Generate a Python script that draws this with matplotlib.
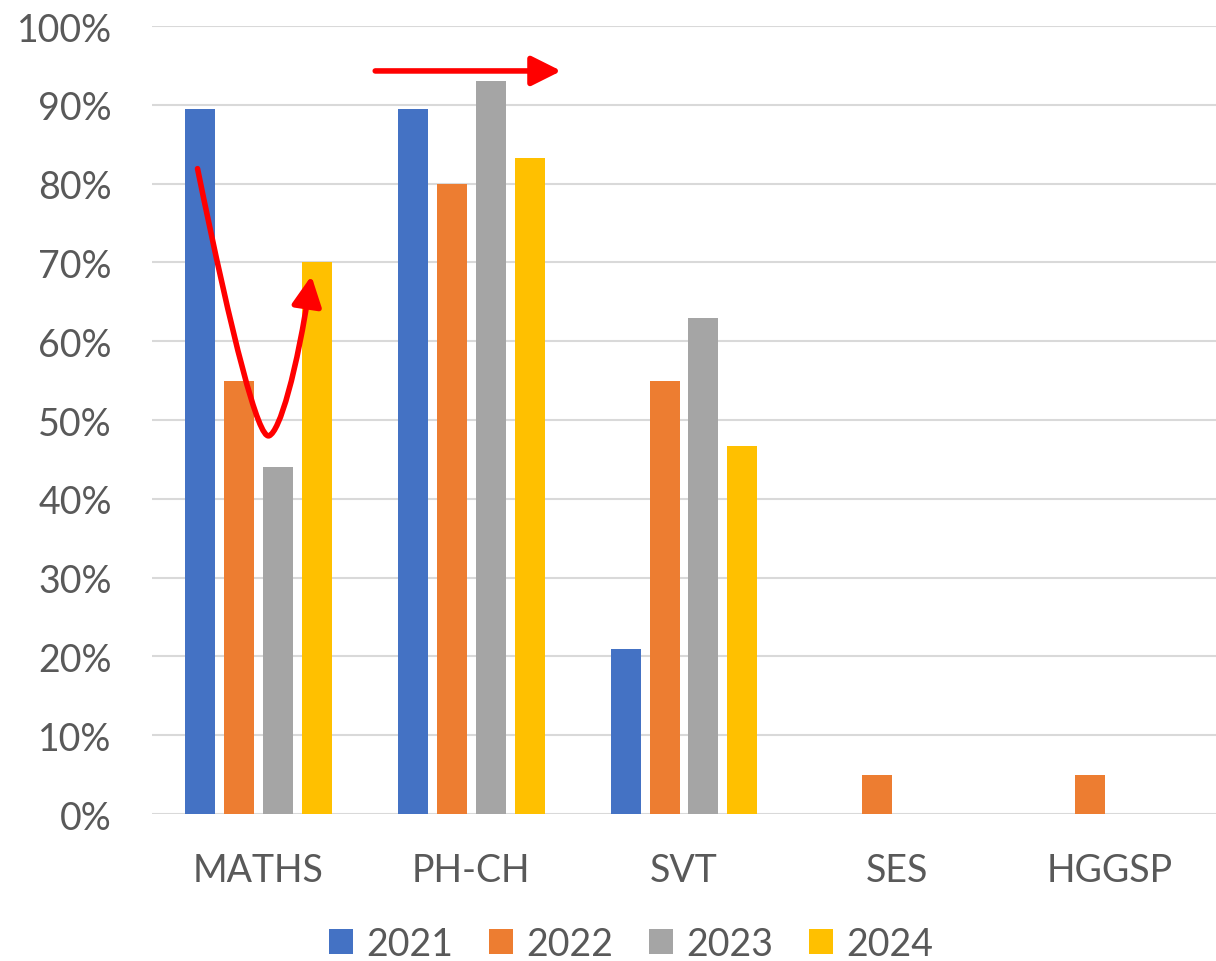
import numpy as np
import matplotlib
matplotlib.use('Agg')
import matplotlib.pyplot as plt
from matplotlib.path import Path
from matplotlib.patches import FancyArrowPatch

plt.rcParams['font.family'] = ['Lato', 'DejaVu Sans']

subjects = ['MATHS', 'PH-CH', 'SVT', 'SES', 'HGGSP']
years = ['2021', '2022', '2023', '2024']
v2021 = [89.5, 89.5, 21.0, 0, 0]
v2022 = [55.0, 80.0, 55.0, 5.0, 5.0]
v2023 = [44.0, 93.0, 63.0, 0, 0]
v2024 = [70.0, 83.3, 46.7, 0, 0]
colours = ['#4472c4', '#ed7d31', '#a5a5a5', '#ffc000']

fig = plt.figure(figsize=(12.16, 9.62), dpi=100)
ax = fig.add_axes([0.125, 0.1528, 0.875, 0.8191])

x = np.arange(len(subjects))
w = 0.141
step = 0.183
for i, (vals, c) in enumerate(zip([v2021, v2022, v2023, v2024], colours)):
    ax.bar(x + (i - 1.5) * step, vals, w, color=c, label=years[i], zorder=2)

ax.set_xlim(-0.5, 4.5)
ax.set_ylim(0, 100)
ax.set_yticks(np.arange(0, 101, 10))
ax.set_yticklabels([f'{t}%' for t in range(0, 101, 10)])
ax.set_xticks(x)
ax.set_xticklabels(subjects)
ax.grid(axis='y', color='#d9d9d9', linewidth=1.5, zorder=0)
for s in ['top', 'right', 'left', 'bottom']:
    ax.spines[s].set_visible(False)
ax.tick_params(length=0, labelsize=27, colors='#595959')
ax.tick_params(axis='y', pad=29)
ax.tick_params(axis='x', pad=27)

# red annotations
verts = [(-0.286, 81.9), (-0.12, 60), (0.0, 47.5), (0.05, 48.0),
         (0.10, 48.5), (0.18, 56), (0.249, 68.3)]
codes = [Path.MOVETO, Path.CURVE4, Path.CURVE4, Path.CURVE4,
         Path.CURVE4, Path.CURVE4, Path.CURVE4]
curve = FancyArrowPatch(path=Path(verts, codes), arrowstyle='-|>,head_length=0.9,head_width=0.45',
                        mutation_scale=20, color='#ff0000', linewidth=4,
                        transform=ax.transData, zorder=3)
ax.add_patch(curve)
ax.annotate('', xy=(1.423, 94.3), xytext=(0.549, 94.3),
            arrowprops=dict(arrowstyle='-|>,head_length=0.9,head_width=0.45',
                            mutation_scale=20, color='#ff0000', linewidth=4,
                            shrinkA=0, shrinkB=0), zorder=3)

handles, labels = ax.get_legend_handles_labels()
leg = fig.legend(handles, labels, loc='center', bbox_to_anchor=(0.519, 0.018), ncol=4,
                 frameon=False, fontsize=27, handlelength=0.65, handleheight=0.65,
                 columnspacing=0.95, handletextpad=0.35, borderpad=0)
for t in leg.get_texts():
    t.set_color('#595959')

fig.savefig('out.png', dpi=100)
